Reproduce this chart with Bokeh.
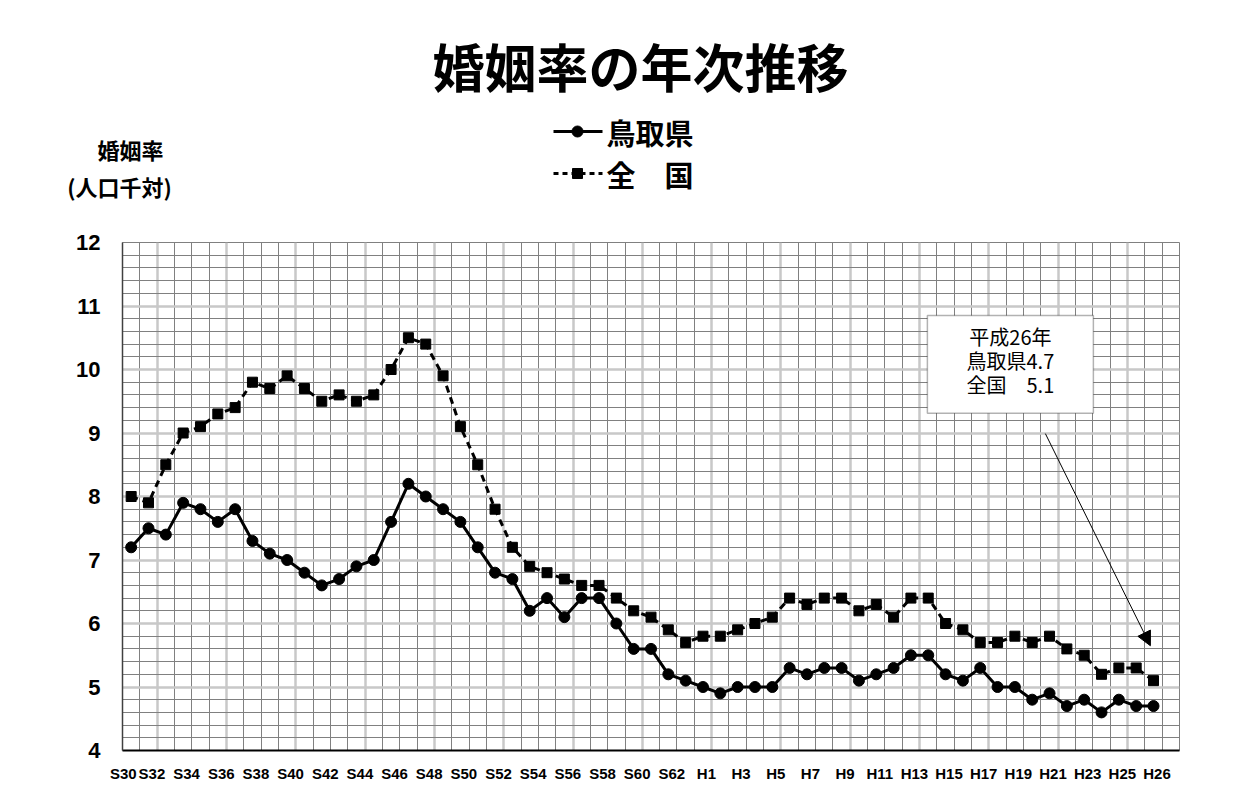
from bokeh.plotting import figure
from bokeh.layouts import column
from bokeh.models import (Range1d, FixedTicker, SingleIntervalTicker, Label, BoxAnnotation,
                          Arrow, NormalHead)
from bokeh.core.properties import value
from bokeh.embed import file_html
from bokeh.resources import INLINE

# ---- data ----
years = ["S30", "S31", "S32", "S33", "S34", "S35", "S36", "S37", "S38", "S39",
         "S40", "S41", "S42", "S43", "S44", "S45", "S46", "S47", "S48", "S49",
         "S50", "S51", "S52", "S53", "S54", "S55", "S56", "S57", "S58", "S59",
         "S60", "S61", "S62", "S63",
         "H1", "H2", "H3", "H4", "H5", "H6", "H7", "H8", "H9", "H10",
         "H11", "H12", "H13", "H14", "H15", "H16", "H17", "H18", "H19", "H20",
         "H21", "H22", "H23", "H24", "H25", "H26"]

tottori = [7.2, 7.5, 7.4, 7.9, 7.8, 7.6, 7.8, 7.3, 7.1, 7.0,
           6.8, 6.6, 6.7, 6.9, 7.0, 7.6, 8.2, 8.0, 7.8, 7.6,
           7.2, 6.8, 6.7, 6.2, 6.4, 6.1, 6.4, 6.4, 6.0, 5.6,
           5.6, 5.2, 5.1, 5.0,
           4.9, 5.0, 5.0, 5.0, 5.3, 5.2, 5.3, 5.3, 5.1, 5.2,
           5.3, 5.5, 5.5, 5.2, 5.1, 5.3, 5.0, 5.0, 4.8, 4.9,
           4.7, 4.8, 4.6, 4.8, 4.7, 4.7]

national = [8.0, 7.9, 8.5, 9.0, 9.1, 9.3, 9.4, 9.8, 9.7, 9.9,
            9.7, 9.5, 9.6, 9.5, 9.6, 10.0, 10.5, 10.4, 9.9, 9.1,
            8.5, 7.8, 7.2, 6.9, 6.8, 6.7, 6.6, 6.6, 6.4, 6.2,
            6.1, 5.9, 5.7, 5.8,
            5.8, 5.9, 6.0, 6.1, 6.4, 6.3, 6.4, 6.4, 6.2, 6.3,
            6.1, 6.4, 6.4, 6.0, 5.9, 5.7, 5.7, 5.8, 5.7, 5.8,
            5.6, 5.5, 5.2, 5.3, 5.3, 5.1]

tick_labels = ["S30", "S32", "S34", "S36", "S38", "S40", "S42", "S44", "S46", "S48",
               "S50", "S52", "S54", "S56", "S58", "S60", "S62",
               "H1", "H3", "H5", "H7", "H9", "H11", "H13", "H15", "H17", "H19",
               "H21", "H23", "H25", "H26"]

title_text = "婚姻率の年次推移"
ytitle_1 = "婚姻率"
ytitle_2 = "(人口千対)"
series_names = ["鳥取県", "全　国"]
note_lines = ["平成26年", "鳥取県4.7", "全国　5.1"]

CJK = "Noto Sans CJK JP"
LAT = "Liberation Sans"
W = 1223
HEAD_H = 220

xs = list(range(len(years)))

# ---------------- header (title, axis title, legend) ----------------
h = figure(width=W, height=HEAD_H, x_range=Range1d(0, W), y_range=Range1d(0, HEAD_H),
           output_backend="svg", toolbar_location=None, title=None, min_border=0,
           x_axis_location=None, y_axis_location=None, frame_align=False)
h.grid.visible = False
h.outline_line_color = None
h.background_fill_color = "white"
h.border_fill_color = "white"

h.text(x=[640], y=[HEAD_H - 65], text=[title_text], text_font=value(CJK),
       text_font_style="bold", text_font_size="52px", text_align="center",
       text_baseline="middle", text_color="black")
h.text(x=[130], y=[HEAD_H - 148], text=[ytitle_1], text_font=value(CJK),
       text_font_style="bold", text_font_size="22px", text_align="center",
       text_baseline="middle", text_color="black")
h.text(x=[119], y=[HEAD_H - 185], text=[ytitle_2], text_font=value(CJK),
       text_font_style="bold", text_font_size="22px", text_align="center",
       text_baseline="middle", text_color="black")

# legend swatches
ly1, ly2 = HEAD_H - 131, HEAD_H - 173
h.line([553, 602], [ly1, ly1], line_color="black", line_width=3)
h.scatter([577], [ly1], marker="circle", size=11, fill_color="black", line_color="black")
h.line([553, 602], [ly2, ly2], line_color="black", line_width=3, line_dash="5 4")
h.scatter([577], [ly2], marker="square", size=10, fill_color="black", line_color="black")
h.text(x=[606, 606], y=[ly1, ly2], text=series_names, text_font=value(CJK),
       text_font_style="bold", text_font_size="29px", text_align="left",
       text_baseline="middle", text_color="black")

# ---------------- main chart ----------------
p = figure(width=W, height=571, x_range=Range1d(-0.5, 60.5), y_range=Range1d(4, 12),
           output_backend="svg", toolbar_location=None, title=None, frame_align=False,
           min_border_left=122, min_border_right=44, min_border_top=22, min_border_bottom=41)
p.background_fill_color = "white"
p.border_fill_color = "white"
p.outline_line_color = "#808080"
p.outline_line_width = 1

# y axis / grid
p.yaxis.ticker = SingleIntervalTicker(interval=1, num_minor_ticks=5)
p.yaxis.major_tick_line_color = None
p.yaxis.minor_tick_line_color = None
p.yaxis.axis_line_color = "#404040"
p.yaxis.axis_line_width = 1.5
p.yaxis.major_label_text_font = LAT
p.yaxis.major_label_text_font_style = "bold"
p.yaxis.major_label_text_font_size = "22px"
p.yaxis.major_label_text_color = "black"
p.yaxis.major_label_standoff = 16
p.ygrid.grid_line_color = "#c8c8c8"
p.ygrid.grid_line_width = 2.5
p.ygrid.minor_grid_line_color = "#808080"
p.ygrid.minor_grid_line_width = 1

# x axis / grid (labels spread evenly, as in the original)
label_pos = [max(-0.45, 2 * k - 0.8) for k in range(len(tick_labels))]
p.xaxis.ticker = FixedTicker(ticks=label_pos)
p.xaxis.major_label_overrides = {pos: t for pos, t in zip(label_pos, tick_labels)}
p.xaxis.major_tick_line_color = None
p.xaxis.minor_tick_line_color = None
p.xaxis.axis_line_color = "black"
p.xaxis.axis_line_width = 2
p.xaxis.major_label_text_font = LAT
p.xaxis.major_label_text_font_style = "bold"
p.xaxis.major_label_text_font_size = "15px"
p.xaxis.major_label_text_color = "black"
p.xaxis.major_label_standoff = 8
p.xgrid.ticker = FixedTicker(ticks=[1.5 + 4 * k for k in range(15)],
                             minor_ticks=[i + 0.5 for i in range(-1, 61)])
p.xgrid.grid_line_color = "#c8c8c8"
p.xgrid.grid_line_width = 2.5
p.xgrid.minor_grid_line_color = "#808080"
p.xgrid.minor_grid_line_width = 1

# series
p.line(xs, tottori, line_color="black", line_width=3)
p.scatter(xs, tottori, marker="circle", size=11, fill_color="black", line_color="black")
p.line(xs, national, line_color="black", line_width=3, line_dash="7 5")
p.scatter(xs, national, marker="square", size=10, fill_color="black", line_color="black")

# note box and arrow
p.add_layout(BoxAnnotation(left=45.95, right=55.53, top=10.85, bottom=9.31,
                           fill_color="white", fill_alpha=1, line_color="black",
                           line_width=1.5, level="overlay"))
for ty, line in zip([10.52, 10.14, 9.76], note_lines):
    p.add_layout(Label(x=50.74, y=ty, text=line, text_font=CJK, text_font_size="20px",
                       text_align="center", text_baseline="middle", text_color="black",
                       level="overlay"))
p.add_layout(Arrow(end=NormalHead(size=14, fill_color="black", line_color="black"),
                   x_start=52.76, y_start=8.99, x_end=58.82, y_end=5.65,
                   line_color="black", line_width=1))

layout = column(h, p, spacing=0)
open("out.html", "w").write(file_html(layout, INLINE))
